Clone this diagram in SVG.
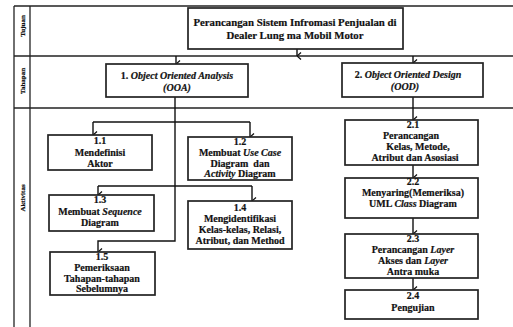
<svg xmlns="http://www.w3.org/2000/svg" width="513" height="327" viewBox="0 0 513 327">
<style>
.frame{stroke:#222;stroke-width:1.3;fill:none}
.box{fill:#fff;stroke:#222;stroke-width:1.7}
.con{fill:none;stroke:#111;stroke-width:1.4}
.arr{fill:none;stroke:#111;stroke-width:1.4;marker-end:url(#ah)}
text{font-family:"Liberation Serif","Times New Roman",serif;font-weight:700;fill:#111;stroke:#111;stroke-width:0.2;text-anchor:middle}
.t{font-size:10px}
.tt{font-size:10.8px}
.lab{font-size:7px}
.i{font-style:italic}
</style>
<defs>
<marker id="ah" markerWidth="8" markerHeight="6" refX="4" refY="5.5" orient="auto" markerUnits="userSpaceOnUse" viewBox="0 0 8 6">
<path d="M0.5,1.5 L4,5.5 L7.5,1.5" fill="none" stroke="#111" stroke-width="1.3"/>
</marker>
</defs>
<g id="frame">
<line class="frame" x1="14" y1="6" x2="513" y2="6"/>
<line class="frame" x1="14" y1="6" x2="14" y2="327"/>
<line class="frame" x1="30" y1="6" x2="30" y2="327"/>
<line class="frame" x1="14" y1="56" x2="513" y2="56"/>
<line class="frame" x1="14" y1="108" x2="513" y2="108"/>
<text class="lab" transform="translate(24.5,26) rotate(-90)">Tujuan</text>
<text class="lab" transform="translate(24.5,81) rotate(-90)">Tahapan</text>
<text class="lab" transform="translate(24.5,198) rotate(-90)">Aktivitas</text>
</g>
<g id="connectors">
<line class="arr" x1="297" y1="49" x2="297" y2="56"/>
<line class="arr" x1="176" y1="56" x2="176" y2="64"/>
<line class="arr" x1="413" y1="56" x2="413" y2="63"/>
<polyline class="arr" points="175,97 175,241 98,241 98,252"/>
<line class="con" x1="93" y1="122" x2="250" y2="122"/>
<line class="arr" x1="93" y1="122" x2="93" y2="135"/>
<line class="arr" x1="250" y1="122" x2="250" y2="137"/>
<line class="con" x1="98" y1="186" x2="252" y2="186"/>
<line class="arr" x1="98" y1="186" x2="98" y2="195"/>
<line class="arr" x1="252" y1="186" x2="252" y2="201"/>
<line class="arr" x1="413" y1="97" x2="413" y2="120"/>
<line class="arr" x1="413" y1="165" x2="413" y2="178"/>
<line class="arr" x1="413" y1="218" x2="413" y2="234"/>
<line class="arr" x1="413" y1="278" x2="413" y2="290"/>
</g>
<g id="title">
<rect class="box" x="188" y="8" width="215" height="41"/>
<text class="tt" x="295" y="26">Perancangan Sistem Infromasi Penjualan di</text>
<text class="tt" x="295" y="39">Dealer Lung ma Mobil Motor</text>
</g>
<g id="ooa">
<rect class="box" x="106" y="64" width="142" height="33"/>
<text class="t" x="177" y="79">1. <tspan class="i">Object Oriented Analysis</tspan></text>
<text class="t i" x="177" y="91">(OOA)</text>
</g>
<g id="ood">
<rect class="box" x="342" y="63" width="141" height="34"/>
<text class="t" x="408" y="78">2. <tspan class="i">Object Oriented Design</tspan></text>
<text class="t i" x="405" y="90">(OOD)</text>
</g>
<g id="n11">
<rect class="box" x="48" y="135" width="104" height="35"/>
<text class="t" x="100" y="144">1.1</text>
<text class="t" x="100" y="156">Mendefinisi</text>
<text class="t" x="100" y="167">Aktor</text>
</g>
<g id="n12">
<rect class="box" x="188" y="137" width="104" height="43"/>
<text class="t" x="240" y="145">1.2</text>
<text class="t" x="240" y="156">Membuat <tspan class="i">Use Case</tspan></text>
<text class="t" x="240" y="167" xml:space="preserve">Diagram  dan</text>
<text class="t" x="240" y="177"><tspan class="i">Activity</tspan> Diagram</text>
</g>
<g id="n13">
<rect class="box" x="49" y="195" width="105" height="36"/>
<text class="t" x="100" y="203">1.3</text>
<text class="t" x="100" y="215">Membuat <tspan class="i">Sequence</tspan></text>
<text class="t" x="100" y="226">Diagram</text>
</g>
<g id="n14">
<rect class="box" x="188" y="201" width="104" height="48"/>
<text class="t" x="240" y="211">1.4</text>
<text class="t" x="240" y="222">Mengidentifikasi</text>
<text class="t" x="240" y="233">Kelas-kelas, Relasi,</text>
<text class="t" x="240" y="244">Atribut, dan Method</text>
</g>
<g id="n15">
<rect class="box" x="50" y="252" width="105" height="43"/>
<text class="t" x="102" y="260">1.5</text>
<text class="t" x="102" y="271">Pemeriksaan</text>
<text class="t" x="102" y="282">Tahapan-tahapan</text>
<text class="t" x="102" y="292">Sebelumnya</text>
</g>
<g id="n21">
<rect class="box" x="345" y="120" width="133" height="45"/>
<text class="t" x="413" y="128">2.1</text>
<text class="t" x="411" y="139">Perancangan</text>
<text class="t" x="418" y="150">Kelas, Metode,</text>
<text class="t" x="415" y="161">Atribut dan Asosiasi</text>
</g>
<g id="n22">
<rect class="box" x="345" y="178" width="133" height="40"/>
<text class="t" x="413" y="185">2.2</text>
<text class="t" x="413" y="196">Menyaring(Memeriksa)</text>
<text class="t" x="413" y="207">UML <tspan class="i">Class</tspan> Diagram</text>
</g>
<g id="n23">
<rect class="box" x="345" y="234" width="133" height="44"/>
<text class="t" x="413" y="242">2.3</text>
<text class="t" x="413" y="253">Perancangan <tspan class="i">Layer</tspan></text>
<text class="t" x="413" y="264">Akses dan <tspan class="i">Layer</tspan></text>
<text class="t" x="413" y="275">Antra muka</text>
</g>
<g id="n24">
<rect class="box" x="345" y="290" width="133" height="29"/>
<text class="t" x="413" y="299">2.4</text>
<text class="t" x="413" y="311">Pengujian</text>
</g>
</svg>
